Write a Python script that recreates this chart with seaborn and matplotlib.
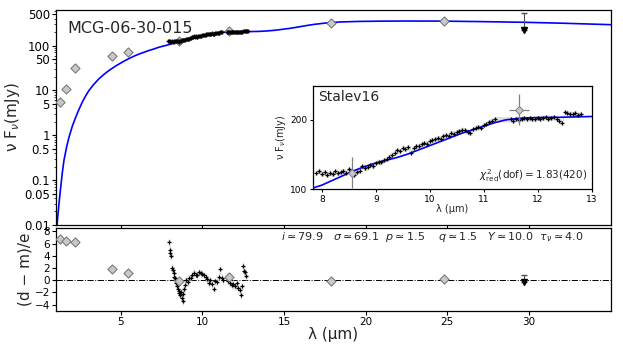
import numpy as np
import matplotlib
matplotlib.use("Agg")
import matplotlib.pyplot as plt
import seaborn as sns
from matplotlib.ticker import NullFormatter

sns.set_theme(style="ticks")
plt.rcParams["font.family"] = ["DejaVu Sans"]
plt.rcParams["mathtext.fontset"] = "dejavusans"

# ---------------------------------------------------------
# Model SED (blue line)
# ---------------------------------------------------------
model_wave = [1.10, 1.14, 1.24, 1.34, 1.44, 1.54, 1.70, 1.85, 2.05, 2.26, 2.46, 2.66,
              2.86, 3.07, 3.35, 3.68, 4.00, 4.29, 4.70, 5.10, 5.50, 5.91, 6.30, 6.73,
              7.00, 7.34, 7.60, 7.80, 8.00, 8.20, 8.40, 8.60, 8.80, 9.00, 9.20, 9.40,
              9.60, 9.80, 10.0, 10.2, 10.4, 10.6, 10.8, 11.0, 11.2, 11.4, 11.6, 11.8,
              12.0, 12.5, 13.0, 13.5, 14.0, 14.5, 14.9, 15.4, 15.9, 16.4, 16.9, 17.4,
              17.85, 18.5, 19.6, 21.0, 22.5, 24.8, 27.0, 29.7, 32.0, 35.0]
model_flux = [0.008, 0.013, 0.032, 0.071, 0.15, 0.28, 0.55, 0.92, 1.6, 2.55, 3.8, 5.5,
              7.5, 10.0, 13.5, 18.2, 23.0, 27.8, 35.0, 42.6, 51.0, 60.0, 68.0, 77.4,
              83.0, 91.5, 97.0, 101.0, 106.0, 113.0, 120.0, 127.0, 133.0, 138.0, 142.0, 146.0,
              151.0, 157.0, 163.0, 169.0, 175.0, 181.0, 186.0, 191.0, 196.0, 200.0, 202.0, 203.0,
              203.5, 204.0, 205.0, 207.0, 212.0, 220.0, 230.0, 243.0, 260.0, 280.0, 298.0, 313.0,
              325.0, 336.0, 345.0, 350.0, 352.0, 350.0, 342.0, 330.0, 315.0, 292.0]

# ---------------------------------------------------------
# Photometry (grey diamonds) + upper limit
# ---------------------------------------------------------
phot_wave = [1.28, 1.69, 2.21, 4.49, 5.47, 8.55, 11.65, 17.85, 24.8]
phot_flux = [5.5, 10.9, 31.0, 60.0, 71.0, 124.0, 215.0, 325.0, 355.0]
phot_err = [0.5, 1.0, 2.5, 12.0, 13.0, 22.0, 22.0, 25.0, 35.0]
phot_resid = [6.7, 6.5, 6.3, 1.8, 1.1, -0.2, 0.5, -0.2, 0.2]
phot_resid_err = [0.6, 0.6, 0.6, 0.6, 0.6, 0.6, 0.6, 0.6, 0.7]

ul_wave = 29.7
ul_flux = 220.0
ul_top = 540.0
ul_resid = -0.3
ul_resid_top = 0.8

# ---------------------------------------------------------
# Spitzer spectrum (black crosses)
# ---------------------------------------------------------
spec_wave = [7.90, 7.95, 8.00, 8.05, 8.10, 8.15, 8.20, 8.25, 8.30, 8.35, 8.40, 8.45,
             8.50, 8.55, 8.60, 8.65, 8.70, 8.75, 8.80, 8.85, 8.90, 8.95, 9.00, 9.05,
             9.10, 9.15, 9.20, 9.25, 9.30, 9.35, 9.40, 9.45, 9.50, 9.55, 9.60, 9.65,
             9.70, 9.75, 9.80, 9.85, 9.90, 9.95, 10.00, 10.05, 10.10, 10.15, 10.20, 10.25,
             10.30, 10.35, 10.40, 10.45, 10.50, 10.55, 10.60, 10.65, 10.70, 10.75, 10.80, 10.85,
             10.90, 10.95, 11.00, 11.05, 11.10, 11.15, 11.20, 11.50, 11.55, 11.60, 11.65, 11.70,
             11.75, 11.80, 11.85, 11.90, 11.95, 12.00, 12.05, 12.10, 12.15, 12.20, 12.25, 12.30,
             12.35, 12.40, 12.45, 12.50, 12.55, 12.60, 12.65, 12.70, 12.75, 12.80]
spec_flux = [124, 127, 122, 125, 121, 124, 122, 126, 123, 125, 127, 124,
             129, 126, 121, 125, 127, 133, 130, 132, 135, 133, 138, 140,
             139, 142, 143, 147, 150, 153, 156, 155, 160, 158, 161, 153,
             159, 162, 163, 165, 167, 166, 170, 171, 172, 174, 173, 177,
             178, 177, 181, 180, 183, 184, 186, 185, 183, 181, 187, 189,
             190, 189, 193, 194, 197, 199, 201, 201, 199, 202, 200, 202,
             203, 201, 203, 202, 201, 203, 202, 203, 204, 202, 203, 204,
             202, 199, 196, 211, 210, 209, 208, 210, 207, 209]
SPEC_ERR = 4.0

# residuals of the spectrum
res_wave = [7.95, 8.03, 8.05, 8.10, 8.15, 8.20, 8.25, 8.30, 8.35, 8.40, 8.45, 8.50,
            8.55, 8.60, 8.65, 8.70, 8.75, 8.80, 8.85, 8.90, 8.95, 9.00, 9.10, 9.20,
            9.30, 9.40, 9.50, 9.60, 9.70, 9.80, 9.90, 10.0, 10.1, 10.2, 10.3, 10.4,
            10.5, 10.6, 10.7, 10.8, 10.9, 11.0, 11.1, 11.2, 11.3, 11.5, 11.6, 11.7,
            11.8, 11.9, 12.0, 12.1, 12.2, 12.3, 12.4, 12.45, 12.5, 12.55, 12.6, 12.7]
res_val = [6.2, 5.0, 4.4, 3.9, 2.0, 1.6, 1.2, 0.6, 0.3, -0.4, -0.9, -1.4,
           -1.8, -2.1, -2.4, -2.0, -2.9, -3.4, -2.2, -1.5, -0.8, 0.0, -0.3, 0.3,
           0.4, 0.9, 1.2, 0.9, 0.8, 1.3, 1.1, 1.0, 0.8, 0.5, 0.2, -0.5,
           0.0, -0.6, -1.5, -0.2, -0.3, 0.6, 1.8, 0.4, 0.0, 0.5, -0.2, -0.5,
           -0.8, -0.6, -1.0, -0.5, -1.3, -1.6, -2.5, -1.0, 2.3, 1.5, 1.3, 0.7]
RES_ERR = 0.6

param_text = (r"$i \simeq 79.9$   $\sigma \simeq 69.1$  $p \simeq 1.5$    "
              r"$q \simeq 1.5$   $Y \simeq 10.0$  $\tau_\nu \simeq 4.0$")

log_ticks = [0.01, 0.05, 0.1, 0.5, 1, 5, 10, 50, 100, 500]
log_labels = ["0.01", "0.05", "0.1", "0.5", "1", "5", "10", "50", "100", "500"]

fig = plt.figure(figsize=(6.23, 3.46), dpi=100)
ax = fig.add_axes([0.0899, 0.3497, 0.8904, 0.6214])
axr = fig.add_axes([0.0899, 0.1020, 0.8904, 0.2382])
axi = fig.add_axes([0.5019, 0.4529, 0.4478, 0.2986])

for a in (ax, axr, axi):
    for s in a.spines.values():
        s.set_color("black")
        s.set_linewidth(0.9)
    a.tick_params(direction="out", length=3, width=0.8, colors="black", pad=1.5)

# ---------------------------------------------------------
# Main SED panel
# ---------------------------------------------------------
ax.set_yscale("log")
sns.lineplot(x=model_wave, y=model_flux, ax=ax, color="blue", lw=1.2, zorder=2)
ax.errorbar(phot_wave, phot_flux, yerr=phot_err, fmt="none", ecolor="gray", elinewidth=1, zorder=3)
sns.scatterplot(x=phot_wave, y=phot_flux, ax=ax, marker="D", s=22, color="#c8c8c8",
                edgecolor="#707070", linewidth=0.7, zorder=4)
sns.scatterplot(x=spec_wave, y=spec_flux, ax=ax, marker="+", s=7, color="black",
                linewidth=1.0, zorder=5)
ax.errorbar([ul_wave], [ul_flux], yerr=[[0], [ul_top - ul_flux]], fmt="v", color="black",
            ms=4, ecolor="#505050", elinewidth=0.8, capsize=2.5, zorder=4)
ax.set_xlim(1.05, 35)
ax.set_ylim(0.01, 620)
ax.set_yticks(log_ticks)
ax.set_yticklabels(log_labels)
ax.yaxis.set_minor_formatter(NullFormatter())
ax.tick_params(axis="y", which="minor", length=1.8, width=0.6)
ax.set_xticks([5, 10, 15, 20, 25, 30])
ax.set_xticklabels([])
ax.tick_params(axis="y", labelsize=8.5)
ax.set_ylabel(r"ν F$_{ν}$(mJy)", fontsize=11, labelpad=1)
ax.text(0.02, 0.95, "MCG-06-30-015", transform=ax.transAxes, fontsize=11.5,
        va="top", ha="left")

# ---------------------------------------------------------
# Inset: zoom on the spectrum
# ---------------------------------------------------------
axi.fill_between(spec_wave, np.array(spec_flux) - SPEC_ERR, np.array(spec_flux) + SPEC_ERR,
                 color="lightgray", alpha=0.7, lw=0, zorder=1)
sns.lineplot(x=model_wave, y=model_flux, ax=axi, color="blue", lw=1.2, zorder=2)
sns.scatterplot(x=spec_wave, y=spec_flux, ax=axi, marker="+", s=12, color="black",
                linewidth=0.9, zorder=4)
axi.errorbar([phot_wave[5], phot_wave[6]], [phot_flux[5], phot_flux[6]],
             xerr=[0.0, 0.19], yerr=[22, 22], fmt="D", ms=4.5, mfc="#c8c8c8",
             mec="#707070", mew=0.6, ecolor="gray", elinewidth=0.9, zorder=5)
axi.set_xlim(7.83, 13)
axi.set_ylim(100, 249)
axi.set_xticks([8, 9, 10, 11, 12, 13])
axi.set_yticks([100, 200])
axi.tick_params(labelsize=6.5, length=2.5)
axi.set_xlabel("λ (μm)", fontsize=7, labelpad=0)
axi.set_ylabel(r"ν F$_{ν}$(mJy)", fontsize=7, labelpad=1)
axi.text(0.02, 0.96, "Stalev16", transform=axi.transAxes, fontsize=10, va="top", ha="left")
axi.text(0.985, 0.05, r"$\chi^2_{\mathrm{red}}\mathrm{(dof)=1.83(420)}$",
         transform=axi.transAxes, fontsize=7.5, va="bottom", ha="right")

# ---------------------------------------------------------
# Residual panel
# ---------------------------------------------------------
axr.axhline(0, color="black", ls="-.", lw=0.7, zorder=1)
axr.errorbar(res_wave, res_val, yerr=RES_ERR, fmt="none", ecolor="lightgray", elinewidth=1, zorder=2)
sns.scatterplot(x=res_wave, y=res_val, ax=axr, marker="+", s=12, color="black",
                linewidth=0.9, zorder=3)
axr.errorbar(phot_wave, phot_resid, yerr=phot_resid_err, fmt="none", ecolor="gray",
             elinewidth=1, zorder=3)
sns.scatterplot(x=phot_wave, y=phot_resid, ax=axr, marker="D", s=22, color="#c8c8c8",
                edgecolor="#707070", linewidth=0.7, zorder=4)
axr.errorbar([ul_wave], [ul_resid], yerr=[[0], [ul_resid_top - ul_resid]], fmt="v",
             color="black", ms=4, ecolor="#505050", elinewidth=0.8, capsize=2.5, zorder=4)
axr.set_xlim(1.05, 35)
axr.set_ylim(-5, 8.5)
axr.set_yticks([-4, -2, 0, 2, 4, 6, 8])
axr.set_xticks([5, 10, 15, 20, 25, 30])
axr.tick_params(labelsize=7.5)
axr.set_xlabel("λ (μm)", fontsize=11, labelpad=0)
axr.set_ylabel("(d − m)/e", fontsize=11, labelpad=1)
axr.text(0.95, 0.89, param_text, transform=axr.transAxes, fontsize=8, va="center", ha="right")

fig.savefig("out.png", dpi=100)
